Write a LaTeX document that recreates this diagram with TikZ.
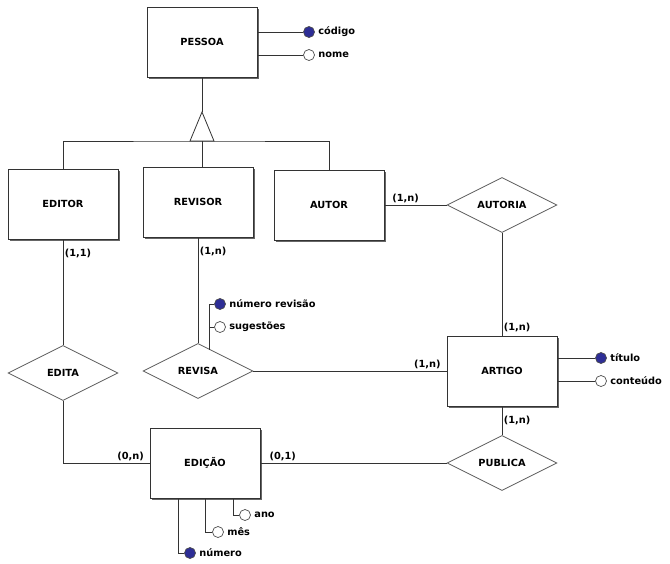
\documentclass[tikz,border=0pt]{standalone}
\usepackage{fontspec}
\setmainfont{DejaVu Sans}
\usetikzlibrary{shapes.geometric,shadows}
\definecolor{chave}{RGB}{46,46,150}

\begin{document}
\begin{tikzpicture}[x=1pt,y=-1pt,
  font=\fontsize{9.8}{11}\selectfont\bfseries,
  entity/.style={draw=black!80, line width=0.8pt, fill=white, rectangle, minimum width=110pt, minimum height=70pt,
    drop shadow={shadow xshift=1.6pt, shadow yshift=-1.6pt, fill=black!60, opacity=1}},
  rel/.style={draw=black!65, line width=0.8pt, fill=white, diamond, aspect=2, minimum width=110pt, minimum height=55pt, inner sep=0pt},
  key/.style={circle, draw=black!70, line width=0.7pt, fill=chave, minimum size=11pt, inner sep=0pt},
  attr/.style={circle, draw=black!70, line width=0.7pt, fill=white, minimum size=11pt, inner sep=0pt},
  card/.style={inner sep=1.5pt},
  link/.style={draw=black!80, line width=0.8pt}]
\useasboundingbox (0,0) rectangle (670,563);

% entidades
\node[entity] at (202,42) (pessoa) {PESSOA};
\node[entity] at (63,204) (editor) {EDITOR};
\node[entity] at (198,202) (revisor) {REVISOR};
\node[entity] at (329,205) (autor) {AUTOR};
\node[entity] at (502,371) (artigo) {ARTIGO};
\node[entity] at (205,463) (edicao) {EDIÇÃO};

% relacionamentos
\node[rel] at (502,205) (autoria) {AUTORIA};
\node[rel] at (63,373) (edita) {EDITA};
\node[rel] at (198,371) (revisa) {REVISA};
\node[rel] at (502,463) (publica) {PUBLICA};

% atributos
\node[key, label=right:código] at (309,32) (cod) {};
\node[attr, label=right:nome] at (309,55) (nome) {};
\node[key, label=right:título] at (601,358) (tit) {};
\node[attr, label=right:conteúdo] at (601,381) (cont) {};
\node[key, label=right:número revisão] at (220,304) (nrev) {};
\node[attr, label=right:sugestões] at (220,327) (sug) {};
\node[key, label=right:número] at (190,553) (num) {};
\node[attr, label=right:mês] at (218,532) (mes) {};
\node[attr, label=right:ano] at (245,515) (ano) {};

% especializacao
\coordinate (isatop) at (202,112);
\coordinate (isa) at (202,141);
\draw[link] (pessoa.south) -- (isatop);
\draw[link, fill=white] (isatop) -- ([xshift=12pt]isa) -- ([xshift=-12pt]isa) -- cycle;
\draw[link] (editor.north) |- (isa) -| (autor.north);
\draw[link] (isa) -- (isa |- revisor.north);

% ligacoes
\draw[link] (editor.south) -- node[card, pos=0.13, right]{(1,1)} (edita.north);
\draw[link] (revisor.south) -- node[card, pos=0.13, right]{(1,n)} (revisa.north);
\draw[link] (autor.east) -- node[card, pos=0.34, above]{(1,n)} (autoria.west);
\draw[link] (autoria.south) -- node[card, pos=0.92, right]{(1,n)} (artigo.north);
\draw[link] (revisa.east) -- node[card, pos=0.9, above]{(1,n)} (artigo.west);
\draw[link] (artigo.south) -- node[card, pos=0.5, right]{(1,n)} (publica.north);
\draw[link] (edita.south) |- node[card, pos=0.89, above]{(0,n)} (edicao.west);
\draw[link] (edicao.east) -- node[card, pos=0.12, above]{(0,1)} (publica.west);

% atributos ligados
\draw[link] (pessoa.east |- cod) -- (cod);
\draw[link] (pessoa.east |- nome) -- (nome);
\draw[link] (artigo.east |- tit) -- (tit);
\draw[link] (artigo.east |- cont) -- (cont);
\coordinate (rvatt) at (209,349.5);
\draw[link] (rvatt) |- (nrev);
\draw[link] (rvatt |- sug) -- (sug);
\draw[link] ([xshift=-27pt]edicao.south) |- (num);
\draw[link] (edicao.south) |- (mes);
\draw[link] ([xshift=28pt]edicao.south) |- (ano);

\end{tikzpicture}
\end{document}
